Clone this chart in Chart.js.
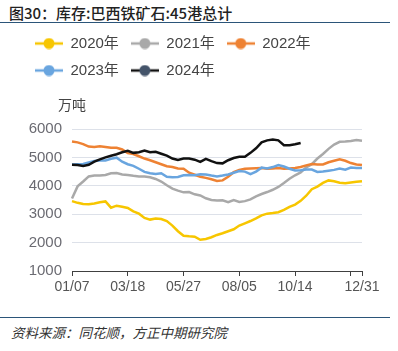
<!DOCTYPE html>
<html>
<head>
<meta charset="utf-8">
<script src="https://cdn.jsdelivr.net/npm/chart.js@4.4.1/dist/chart.umd.min.js"></script>
<style>
body { margin: 0; background: #fff; }
#wrap { position: relative; width: 398px; height: 351px; overflow: hidden; font-family: "Noto Sans CJK SC", sans-serif; }
#title { position: absolute; left: 9px; top: 4px; font-size: 15px; line-height: 18px; font-weight: 500; color: #222; white-space: nowrap; }
#topline { position: absolute; left: 0; top: 22px; width: 390px; border-top: 1.5px solid #2b5579; }
#chart { position: absolute; left: 0; top: 23px; }
#botline { position: absolute; left: 0; top: 317px; width: 390px; border-top: 1.5px solid #2b5579; }
#source { position: absolute; left: 11px; top: 323px; font-size: 13.5px; line-height: 18px; font-style: italic; color: #333; white-space: nowrap; }
</style>
</head>
<body>
<div id="wrap">
  <div id="title">图30：库存:巴西铁矿石:45港总计</div>
  <div id="topline"></div>
  <canvas id="chart" width="398" height="278"></canvas>
  <div id="botline"></div>
  <div id="source">资料来源：同花顺，方正中期研究院</div>
</div>
<script>
// weekly dates (x categories)
const dates = ['01/07','01/14','01/21','01/28','02/04','02/11','02/18','02/25','03/04','03/11',
  '03/18','03/25','04/01','04/08','04/15','04/22','04/29','05/06','05/13','05/20',
  '05/27','06/03','06/10','06/17','06/24','07/01','07/08','07/15','07/22','07/29',
  '08/05','08/12','08/19','08/26','09/02','09/09','09/16','09/23','09/30','10/07',
  '10/14','10/21','10/28','11/04','11/11','11/18','11/25','12/02','12/09','12/16',
  '12/23','12/30','12/31'];
const tickLabels = ['01/07','03/18','05/27','08/05','10/14','12/31'];
const tickMarks = ['01/07','03/18','05/27','08/05','10/14','12/23','12/31'];

// 万吨
const y2020 = [3460,3400,3360,3350,3380,3420,3450,3230,3300,3260,
  3220,3100,3020,2870,2810,2850,2830,2760,2600,2400,
  2240,2220,2210,2100,2130,2190,2270,2330,2400,2470,
  2600,2680,2760,2850,2960,3020,3040,3070,3150,3260,
  3340,3470,3650,3880,3970,4100,4190,4160,4110,4090,
  4120,4140,4160];
const y2021 = [3550,3980,4150,4330,4360,4360,4380,4440,4450,4400,
  4380,4350,4330,4330,4300,4240,4150,4020,3900,3830,
  3770,3780,3700,3660,3560,3500,3480,3490,3420,3500,
  3430,3460,3520,3630,3710,3780,3860,3960,4100,4250,
  4370,4470,4650,4760,4960,5120,5300,5450,5550,5560,
  5580,5610,5590];
const y2022 = [5560,5530,5470,5380,5370,5390,5370,5340,5340,5280,
  5150,5120,5040,4960,4900,4830,4760,4690,4660,4610,
  4600,4460,4390,4320,4280,4230,4170,4190,4320,4480,
  4560,4600,4610,4620,4630,4600,4610,4630,4600,4610,
  4630,4660,4720,4770,4750,4750,4830,4880,4930,4880,
  4800,4750,4730];
const y2023 = [4750,4760,4770,4820,4870,4890,4890,4950,4990,4850,
  4760,4700,4600,4490,4440,4420,4440,4320,4300,4310,
  4370,4380,4370,4410,4400,4360,4330,4360,4400,4460,
  4520,4500,4410,4500,4640,4610,4660,4730,4680,4600,
  4540,4550,4570,4570,4490,4500,4530,4560,4610,4570,
  4640,4630,4630];
const y2024 = [4740,4730,4700,4740,4850,4930,5000,5060,5110,5180,
  5230,5160,5180,5240,5180,5200,5130,5060,4960,4910,
  4960,4960,4920,4840,4950,4870,4800,4790,4900,4980,
  5020,5020,5160,5320,5530,5600,5630,5600,5430,5430,
  5460,5510];

const seriesNames = ['2020年','2021年','2022年','2023年','2024年'];
const seriesData = [y2020, y2021, y2022, y2023, y2024];
const lineColors = ['#f7c600','#a9a9a9','#ee8233','#69a5df','#111111'];
const dotColors = ['#f7c600','#a9a9a9','#ee8233','#69a5df','#44546a'];

function legendIcon(line, dot) {
  const c = document.createElement('canvas');
  c.width = 28; c.height = 12;
  const g = c.getContext('2d');
  g.strokeStyle = line; g.lineWidth = 2.5;
  g.beginPath(); g.moveTo(0, 6); g.lineTo(28, 6); g.stroke();
  g.fillStyle = dot;
  g.beginPath(); g.arc(14, 6, 5.5, 0, Math.PI * 2); g.fill();
  return c;
}

const legendSpace = {
  id: 'legendSpace',
  beforeInit(chart) {
    const fit = chart.legend.fit;
    chart.legend.fit = function () {
      fit.call(this);
      this.height = 105;
    };
  }
};

const unitLabel = {
  id: 'unitLabel',
  afterDraw(chart) {
    const { ctx, chartArea } = chart;
    ctx.save();
    ctx.font = '14px "Noto Sans CJK SC"';
    ctx.fillStyle = '#444';
    ctx.textBaseline = 'middle';
    ctx.fillText('万吨', chartArea.left - 14, chartArea.top - 24);
    ctx.restore();
  }
};

Chart.defaults.font.family = '"Liberation Sans", "Noto Sans CJK SC", sans-serif';

const ctx = document.getElementById('chart').getContext('2d');
const myChart = new Chart(ctx, {
  type: 'line',
  data: {
    labels: dates,
    datasets: seriesNames.map((name, i) => ({
      label: name,
      data: seriesData[i],
      borderColor: lineColors[i],
      backgroundColor: dotColors[i],
      borderWidth: 2.5,
      pointRadius: 0,
      pointStyle: legendIcon(lineColors[i], dotColors[i]),
      tension: 0,
      fill: false,
      order: seriesNames.length - i,
    })),
  },
  options: {
    responsive: false,
    animation: false,
    events: [],
    layout: { padding: { left: 23, right: 36, top: 1, bottom: 0 } },
    plugins: {
      tooltip: { enabled: false },
      legend: {
        position: 'top',
        align: 'start',
        labels: {
          usePointStyle: true,
          pointStyleWidth: 28,
          padding: 12,
          color: '#444',
          font: { size: 15 },
          sort: (a, b) => a.datasetIndex - b.datasetIndex,
        },
      },
    },
    scales: {
      x: {
        offset: false,
        afterFit(scale) { scale.height = 30; },
        border: { display: true, color: '#404040', width: 1 },
        grid: {
          drawOnChartArea: false,
          drawTicks: true,
          tickLength: 5,
          tickColor: (c) => tickMarks.includes(dates[c.index]) ? '#404040' : 'rgba(0,0,0,0)',
        },
        ticks: {
          autoSkip: false,
          maxRotation: 0,
          padding: 3,
          color: '#555',
          font: { size: 14 },
          callback: (v, i) => tickLabels.includes(dates[i]) ? dates[i] : '',
        },
      },
      y: {
        min: 1000,
        max: 6000,
        afterFit(scale) { scale.width = 49; },
        border: { display: false },
        grid: { color: '#dde1e9', lineWidth: 1, drawTicks: false },
        ticks: {
          stepSize: 1000,
          padding: 10,
          color: '#6b6b72',
          font: { size: 15 },
          callback: (v) => v,
        },
      },
    },
  },
  plugins: [legendSpace, unitLabel],
});
</script>
</body>
</html>
